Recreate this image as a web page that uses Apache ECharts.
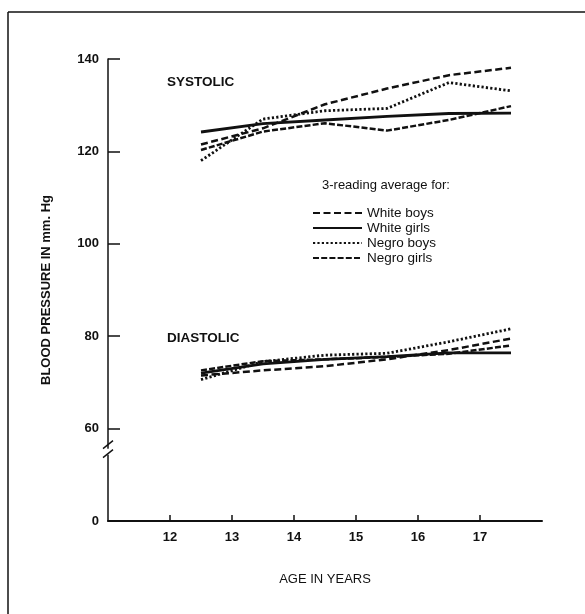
<!DOCTYPE html>
<html>
<head>
<meta charset="utf-8">
<script src="https://cdn.jsdelivr.net/npm/echarts@6/dist/echarts.min.js"></script>
<style>
html,body{margin:0;padding:0;background:#fff;}
#c{width:585px;height:614px;}
</style>
</head>
<body>
<div id="c"></div>
<script>
// ---- data ----
var ages = [12.5, 13.5, 14.5, 15.5, 16.5, 17.5];
var xTicks = [12, 13, 14, 15, 16, 17];
var yTicks = [0, 60, 80, 100, 120, 140];
var groupNames = ['White boys', 'White girls', 'Negro boys', 'Negro girls'];

var sysWhiteBoys  = [121.5, 125.0, 130.2, 133.6, 136.5, 138.1];
var sysWhiteGirls = [124.2, 126.0, 126.8, 127.6, 128.2, 128.3];
var sysNegroBoys  = [118.0, 127.0, 128.8, 129.3, 134.9, 133.1];
var sysNegroGirls = [120.3, 124.3, 126.1, 124.5, 126.8, 129.8];

var diaWhiteBoys  = [71.5, 72.6, 73.5, 75.0, 77.0, 79.5];
var diaWhiteGirls = [72.0, 74.0, 75.0, 75.6, 76.4, 76.4];
var diaNegroBoys  = [70.6, 74.5, 75.9, 76.3, 78.8, 81.6];
var diaNegroGirls = [72.6, 74.6, 75.0, 75.5, 76.2, 78.0];

// ---- helpers ----
function pairs(vals){ return ages.map(function(a,i){ return [a, vals[i]]; }); }
var ink = '#111';
var font = '"Liberation Sans", Arial, sans-serif';
// virtual axis floor: axis is broken between 0 and 60; value 40 on the scale is labelled "0"
var AXIS_FLOOR = 40;

var styles = [
  {type:[7,3.5], width:2.5},            // White boys
  {type:'solid', width:2.8},            // White girls
  {type:[2.2,2.2], width:2.8},          // Negro boys
  {type:[6,2.2], width:2.5}             // Negro girls
];
var sysData = [sysWhiteBoys, sysWhiteGirls, sysNegroBoys, sysNegroGirls];
var diaData = [diaWhiteBoys, diaWhiteGirls, diaNegroBoys, diaNegroGirls];

var series = [];
[sysData, diaData].forEach(function(set){
  set.forEach(function(vals, i){
    series.push({
      name: groupNames[i],
      type: 'line',
      data: pairs(vals),
      symbol: 'none',
      smooth: false,
      lineStyle: {color: ink, width: styles[i].width, type: styles[i].type, cap: 'butt'},
      itemStyle: {color: ink},
      emphasis: {disabled: true},
      animation: false
    });
  });
});

var chart = echarts.init(document.getElementById('c'), null, {renderer:'canvas'});
chart.setOption({
  backgroundColor: '#fff',
  animation: false,
  grid: {left: 108, right: 43, top: 59, bottom: 93},
  title: [
    {text: 'SYSTOLIC', left: 162, top: 70, textStyle:{fontFamily: font, fontSize: 13.5, fontWeight: 'bold', color: ink}},
    {text: 'DIASTOLIC', left: 162, top: 326, textStyle:{fontFamily: font, fontSize: 13.5, fontWeight: 'bold', color: ink}},
    {text: '3-reading average for:', left: 317, top: 174, textStyle:{fontFamily: font, fontSize: 13, fontWeight: 'normal', color: ink}}
  ],
  legend: {
    orient: 'vertical',
    left: 307,
    top: 201,
    itemWidth: 49,
    itemHeight: 10,
    itemGap: 1,
    selectedMode: false,
    data: groupNames,
    itemStyle: {opacity: 0},
    textStyle: {fontFamily: font, fontSize: 13.5, color: ink, lineHeight: 14}
  },
  xAxis: {
    type: 'value',
    min: 11, max: 18, interval: 1,
    name: 'AGE IN YEARS',
    nameLocation: 'middle',
    nameGap: 52,
    nameTextStyle: {fontFamily: font, fontSize: 13, color: ink},
    axisLine: {show: true, lineStyle: {color: ink, width: 2}},
    axisTick: {show: true, inside: true, length: 6, lineStyle: {color: ink, width: 1.5}, customValues: xTicks},
    axisLabel: {fontFamily: font, fontSize: 13, fontWeight: 'bold', color: ink, margin: 10, customValues: xTicks},
    splitLine: {show: false}
  },
  yAxis: {
    type: 'value',
    min: AXIS_FLOOR, max: 140, interval: 20,
    name: 'BLOOD PRESSURE IN mm. Hg',
    nameLocation: 'middle',
    nameGap: 55,
    nameRotate: 90,
    nameTextStyle: {fontFamily: font, fontSize: 13, fontWeight: 'bold', color: ink},
    axisLine: {show: true, lineStyle: {color: ink, width: 1.5}},
    axisTick: {show: true, inside: true, length: 12, lineStyle: {color: ink, width: 1.5}},
    axisLabel: {
      fontFamily: font, fontSize: 13, fontWeight: 'bold', color: ink, margin: 9,
      formatter: function(v){ return v === AXIS_FLOOR ? String(yTicks[0]) : String(v); }
    },
    splitLine: {show: false}
  },
  series: series
});

// axis break marks and the page frame (decoration)
function drawDecor(){
  var pHi = chart.convertToPixel({gridIndex: 0}, [11, 57]);
  var pLo = chart.convertToPixel({gridIndex: 0}, [11, 53]);
  var x = pHi[0];
  var yMid = (pHi[1] + pLo[1]) / 2;
  chart.setOption({
    graphic: [
      {type:'rect', shape:{x: x-3, y: yMid-3, width: 6, height: 6}, style:{fill:'#fff'}, z: 100},
      {type:'line', shape:{x1: x-5, y1: yMid-3, x2: x+5, y2: yMid-11}, style:{stroke: ink, lineWidth: 1.5}, z: 101},
      {type:'line', shape:{x1: x-5, y1: yMid+6, x2: x+5, y2: yMid-2}, style:{stroke: ink, lineWidth: 1.5}, z: 101},
      {type:'line', shape:{x1: 8, y1: 12, x2: 585, y2: 12}, style:{stroke: ink, lineWidth: 1.5}, z: 101},
      {type:'line', shape:{x1: 8, y1: 12, x2: 8, y2: 614}, style:{stroke: ink, lineWidth: 1.5}, z: 101}
    ]
  });
}
drawDecor();
</script>
</body>
</html>
